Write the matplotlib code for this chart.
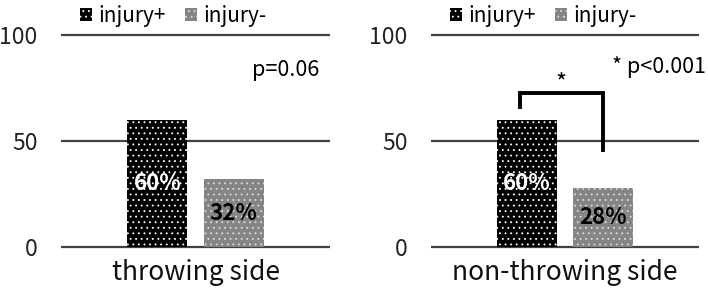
import matplotlib
matplotlib.use("Agg")
import matplotlib.pyplot as plt
from matplotlib.patches import Patch

plt.rcParams['font.family'] = ['Noto Sans CJK JP', 'DejaVu Sans']
plt.rcParams['hatch.linewidth'] = 0.6

panels = ["throwing side", "non-throwing side"]
injury_pos = [60, 60]
injury_neg = [32, 28]
series_labels = ["injury+", "injury-"]
p_texts = ["p=0.06", "* p<0.001"]
yticks = [0, 50, 100]

fig = plt.figure(figsize=(7.08, 2.93), dpi=100)
ax_pos = [[0.0862, 0.135, 0.380, 0.767], [0.6088, 0.135, 0.3785, 0.767]]

off = 0.283
w = 0.446
pos_color = 'black'
neg_color = '#858585'
for i, ax_rect in enumerate(ax_pos):
    ax = fig.add_axes(ax_rect)
    ax.set_xlim(-1, 1)
    ax.set_ylim(-3, 103)
    for y in yticks:
        ax.axhline(y, color='#404040', lw=1.6, zorder=0)
    ax.bar(-off, injury_pos[i], width=w, color=pos_color, edgecolor='white',
           linewidth=0, hatch='...', zorder=2)
    ax.bar(off, injury_neg[i], width=w, color=neg_color, edgecolor='#dddddd',
           linewidth=0, hatch='...', zorder=2)
    ax.text(-off, injury_pos[i] / 2, f"{injury_pos[i]}%", ha='center', va='center',
            color='white', fontsize=16, fontweight='bold', zorder=3)
    ax.text(off, injury_neg[i] / 2, f"{injury_neg[i]}%", ha='center', va='center',
            color='black', fontsize=16, fontweight='bold', zorder=3)
    ax.set_yticks(yticks)
    ax.set_yticklabels([str(t) for t in yticks], fontsize=16.5, color='#222222')
    ax.tick_params(axis='y', length=0, pad=17)
    ax.set_xticks([])
    for s in ax.spines.values():
        s.set_visible(False)
    ax.set_xlabel(panels[i], fontsize=19, labelpad=4, color='#111111')
    handles = [Patch(facecolor=pos_color, edgecolor='white', linewidth=0, hatch='...'),
               Patch(facecolor=neg_color, edgecolor='#dddddd', linewidth=0, hatch='...')]
    ax.legend(handles, series_labels, loc='upper left', bbox_to_anchor=(0.07, 1.105),
              ncol=2, frameon=False, fontsize=15, handlelength=0.6, handleheight=0.6,
              handletextpad=0.3, columnspacing=0.9, borderpad=0, borderaxespad=0)
    if i == 0:
        ax.text(0.92, 83.5, p_texts[i], ha='right', va='center', fontsize=15.5)
    else:
        ax.text(1.05, 85, p_texts[i], ha='right', va='center', fontsize=15.5, clip_on=False)
        xl, xr = -off - 0.05, off
        ax.plot([xl, xl, xr, xr], [66, 72.6, 72.6, 46], color='black', lw=2.8,
                solid_joinstyle='miter', zorder=4)
        ax.text(-0.03, 77.5, "*", ha='center', va='center', fontsize=17)

fig.savefig("out.png", dpi=100)
